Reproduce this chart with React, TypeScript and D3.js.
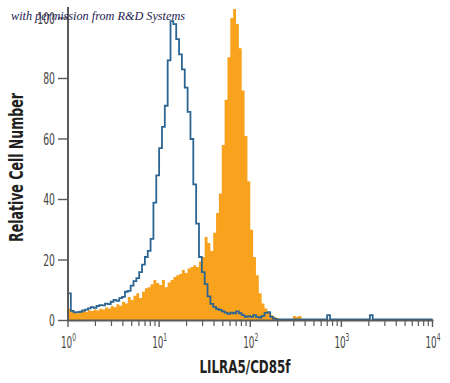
import React from "react";
import * as d3 from "d3";

// Histogram channels: 32 channels per decade from 10^0 to 10^4 (128 channels)
const CHANNELS_PER_DECADE = 32;

// Isotype control (blue outline)
const controlCounts = [
  9, 3.2, 2.7, 2.8, 2.9, 3.3, 3.6, 4, 4.4, 4.2,
  4.8, 5.1, 5, 5.6, 5.4, 6.2, 6.8, 6.5, 7.4, 7.8,
  9.5, 9.8, 11.5, 13, 14, 16, 18.5, 21, 23, 27,
  39, 48, 57, 64, 71, 86, 99, 98, 93, 88,
  83, 77, 69, 60, 45, 32, 21, 16, 12, 8,
  5.5, 4.5, 3.8, 3.5, 3, 2.6, 2.2, 2.6, 2.4, 3,
  2.4, 1.8, 1.2, 1.4, 1.2, 1.8, 1.2, 1, 1.5, 2.5,
  2.8, 1.2, 0.6, 0.4, 0.4, 0.4, 0.4, 0.4, 0.4, 0.4,
  0.4, 0.4, 0.4, 0.4, 0.4, 0.4, 0.4, 0.4, 0.4, 0.4,
  0.4, 1.8, 0.4, 0.4, 0.4, 0.4, 0.4, 0.4, 0.4, 0.4,
  0.4, 0.4, 0.4, 0.4, 0.4, 0.4, 1.8, 0.4, 0.4, 0.4,
  0.4, 0.4, 0.4, 0.4, 0.4, 0.4, 0.4, 0.4, 0.4, 0.4,
  0.4, 0.4, 0.4, 0.4, 0.4, 0.4, 0.4, 0.4,
];

// LILRA5/CD85f stained (orange filled)
const stainedCounts = [
  4, 3.5, 2.5, 2.4, 2.8, 3.2, 2.9, 3.4, 3.1, 3.6,
  3.3, 3.9, 3.6, 4.3, 4, 4.8, 4.4, 5.4, 4.9, 6.2,
  5.6, 7.8, 6.8, 8.2, 9, 7.4, 9.5, 10.7, 11, 12,
  13.4, 12.4, 11.7, 13.4, 11, 12.6, 13.4, 14.4, 15, 15.4,
  16.7, 15.7, 17.2, 17.7, 18.3, 17.7, 19.5, 21, 27.6, 25.6,
  23, 29, 35.5, 42, 58, 73, 87, 100, 103, 98,
  90, 76, 61, 46, 30, 21, 15, 9, 5.6, 4,
  2.8, 1.8, 1.2, 0.8, 0.5, 0.4, 0, 0, 0, 1.5,
  1.2, 1.5, 0, 0, 0, 0, 0, 0, 0, 0,
  0, 0, 0, 0, 0, 0, 0, 0, 0, 0,
  0, 0, 0, 0, 0, 0, 0, 0, 0, 0,
  0, 0, 0, 0, 0, 0, 0, 0, 0, 0,
  0, 0, 0, 0, 0, 0, 0, 0,
];

const yTicks = [0, 20, 40, 60, 80, 100];
const xMajorExponents = [0, 1, 2, 3, 4];
const xMinorMultipliers = [2, 3, 4, 5, 6, 7, 8, 9];

const xTitle = "LILRA5/CD85f";
const yTitle = "Relative Cell Number";
const watermark = "with permission from R&D Systems";

const W = 450;
const H = 383;

const condensed =
  "'Liberation Sans Narrow', 'DejaVu Sans Condensed', 'Roboto Condensed', 'Liberation Sans', Arial, sans-serif";

export default function App() {
  const x = d3.scaleLog().domain([1, 1e4]).range([68, 432.5]);
  const y = d3.scaleLinear().domain([0, 100]).range([320.5, 18]);

  const toPoints = (vals: number[]) => {
    const pts: [number, number][] = vals.map((v, i) => [
      Math.pow(10, i / CHANNELS_PER_DECADE),
      v,
    ]);
    pts.push([Math.pow(10, vals.length / CHANNELS_PER_DECADE), vals[vals.length - 1]]);
    return pts;
  };

  const area = d3
    .area<[number, number]>()
    .x((d) => x(d[0]))
    .y0(y(0))
    .y1((d) => y(d[1]))
    .curve(d3.curveStepAfter);

  const line = d3
    .line<[number, number]>()
    .x((d) => x(d[0]))
    .y((d) => y(d[1]))
    .curve(d3.curveStepAfter);

  const axisColor = "#5b5b5b";
  const labelColor = "#454545";

  const minorTicks: number[] = [];
  xMajorExponents.slice(0, -1).forEach((e) => {
    xMinorMultipliers.forEach((m) => minorTicks.push(m * Math.pow(10, e)));
  });

  return (
    <svg
      width={W}
      height={H}
      style={{ position: "absolute", left: 0, top: 0, background: "#fff" }}
    >
      <rect width={W} height={H} fill="#fff" />
      {/* stained histogram */}
      <path d={area(toPoints(stainedCounts)) || ""} fill="#F8A21D" />
      {/* control histogram */}
      <path
        d={line(toPoints(controlCounts)) || ""}
        fill="none"
        stroke="#2c6592"
        strokeWidth={1.8}
        strokeLinejoin="miter"
      />

      {/* y axis */}
      <line x1={x(1)} x2={x(1)} y1={7} y2={y(0) + 1} stroke={axisColor} strokeWidth={2} />
      {yTicks.map((t) => (
        <g key={t}>
          <line x1={58} x2={x(1)} y1={y(t)} y2={y(t)} stroke={axisColor} strokeWidth={1.4} />
          <text
            x={55}
            y={y(t) + 5.8}
            textAnchor="end"
            fontFamily={condensed}
            fontSize={16.5}
            fill={labelColor}
            textLength={String(t).length * 5.9}
            lengthAdjust="spacingAndGlyphs"
          >
            {t}
          </text>
        </g>
      ))}

      {/* x axis */}
      <line x1={x(1)} x2={x(1e4) + 1} y1={y(0)} y2={y(0)} stroke={axisColor} strokeWidth={2} />
      {minorTicks.map((v) => (
        <line key={"m" + v} x1={x(v)} x2={x(v)} y1={y(0)} y2={y(0) + 5.5} stroke={axisColor} strokeWidth={1.2} />
      ))}
      {xMajorExponents.map((e) => (
        <g key={"M" + e}>
          <line x1={x(Math.pow(10, e))} x2={x(Math.pow(10, e))} y1={y(0)} y2={y(0) + 6.5} stroke={axisColor} strokeWidth={1.4} />
          <text
            x={x(Math.pow(10, e)) - 7}
            y={347.5}
            fontFamily={condensed}
            fontSize={15}
            fill={labelColor}
            textLength={15}
            lengthAdjust="spacingAndGlyphs"
          >
            <tspan>10</tspan>
            <tspan dy={-6.5} fontSize={10}>
              {e}
            </tspan>
          </text>
        </g>
      ))}

      {/* titles */}
      <text
        x={245}
        y={373}
        textAnchor="middle"
        fontFamily={condensed}
        fontWeight="bold"
        fontSize={18}
        fill="#231f20"
        textLength={91}
        lengthAdjust="spacingAndGlyphs"
      >
        {xTitle}
      </text>
      <text
        transform="translate(23,167.5) rotate(-90)"
        textAnchor="middle"
        fontFamily={condensed}
        fontWeight="bold"
        fontSize={19}
        fill="#231f20"
        textLength={149}
        lengthAdjust="spacingAndGlyphs"
      >
        {yTitle}
      </text>

      {/* watermark */}
      <text
        x={11}
        y={20}
        fontFamily="'Liberation Serif', 'DejaVu Serif', serif"
        fontStyle="italic"
        fontSize={12}
        fill="#1c2150"
        textLength={174}
        lengthAdjust="spacingAndGlyphs"
      >
        {watermark}
      </text>
    </svg>
  );
}
